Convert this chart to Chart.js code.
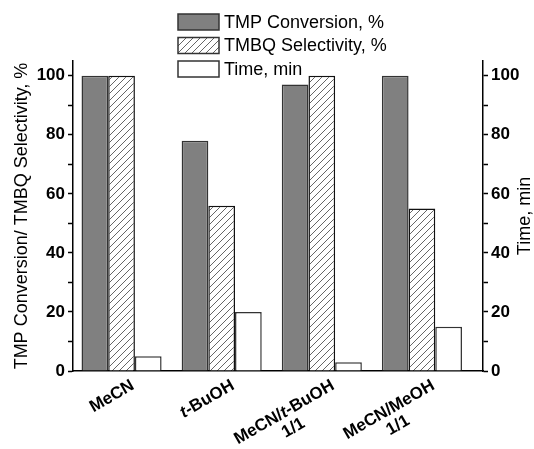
<!DOCTYPE html>
<html>
<head>
<meta charset="utf-8">
<script src="https://cdn.jsdelivr.net/npm/chart.js@4.4.1/dist/chart.umd.min.js"></script>
<style>
  body { margin: 0; background: #fff; }
</style>
</head>
<body>
<canvas id="myChart" width="534" height="449"></canvas>
<script>
const categories = [['MeCN'], ['t-BuOH'], ['MeCN/t-BuOH', '1/1'], ['MeCN/MeOH', '1/1']];
const conversion = [100, 78, 97, 100];
const selectivity = [100, 56, 100, 55];
const timeMin = [5, 20, 3, 15];
const yTickValues = [0, 10, 20, 30, 40, 50, 60, 70, 80, 90, 100];
const yLabelValues = [0, 20, 40, 60, 80, 100];
const seriesNames = ['TMP Conversion, %', 'TMBQ Selectivity, %', 'Time, min'];

const FONT = '"Liberation Sans", Arial, sans-serif';

// diagonal hatch for the selectivity bars
function makeHatch() {
  const s = 7;
  const c = document.createElement('canvas');
  c.width = s;
  c.height = s;
  const g = c.getContext('2d');
  g.fillStyle = '#fff';
  g.fillRect(0, 0, s, s);
  g.strokeStyle = '#666';
  g.lineWidth = 1;
  g.beginPath();
  g.moveTo(0, s); g.lineTo(s, 0);
  g.moveTo(-1, 1); g.lineTo(1, -1);
  g.moveTo(s - 1, s + 1); g.lineTo(s + 1, s - 1);
  g.stroke();
  return g.createPattern(c, 'repeat');
}
const ctx = document.getElementById('myChart').getContext('2d');
const hatch = makeHatch();

// legend drawn in the upper middle, overlapping the plot like the original
const legendPlugin = {
  id: 'boxLegend',
  afterDraw(chart) {
    const c = chart.ctx;
    c.save();
    c.font = '18px ' + FONT;
    c.textBaseline = 'middle';
    chart.data.datasets.forEach((ds, i) => {
      const top = 14 + i * 23.5;
      c.fillStyle = ds.backgroundColor;
      c.fillRect(178, top, 41, 16);
      c.strokeStyle = '#333';
      c.lineWidth = 1.5;
      c.strokeRect(178, top, 41, 16);
      c.fillStyle = '#000';
      c.fillText(ds.label, 224, top + 9);
    });
    c.restore();
  }
};

// rotated category labels with italic "t"
const xLabelPlugin = {
  id: 'xLabels',
  afterDraw(chart) {
    const c = chart.ctx;
    const xs = chart.scales.x;
    const bold = 'bold 17px ' + FONT;
    const ital = 'italic bold 17px ' + FONT;
    function parts(line) {
      return line.split(/(t(?=-))/).map((p, k) => ({ text: p, italic: k % 2 === 1 }));
    }
    function width(line) {
      let w = 0;
      parts(line).forEach(p => {
        c.font = p.italic ? ital : bold;
        w += c.measureText(p.text).width;
      });
      return w;
    }
    categories.forEach((lines, i) => {
      const px = xs.getPixelForValue(i);
      c.save();
      c.translate(px + 7, xs.top + 6);
      c.rotate(-30 * Math.PI / 180);
      c.textBaseline = 'top';
      c.textAlign = 'left';
      c.fillStyle = '#000';
      const w0 = width(lines[0]);
      lines.forEach((line, j) => {
        const w = width(line);
        let x = j === 0 ? -w0 : -w0 / 2 - w / 2;
        parts(line).forEach(p => {
          c.font = p.italic ? ital : bold;
          c.fillText(p.text, x, j * 18);
          x += c.measureText(p.text).width;
        });
      });
      c.restore();
    });
    // right axis title, reading bottom to top
    const r = chart.scales.y1;
    c.save();
    c.font = '18px ' + FONT;
    c.fillStyle = '#000';
    c.textAlign = 'center';
    c.textBaseline = 'middle';
    c.translate(525, (r.top + r.bottom) / 2);
    c.rotate(-Math.PI / 2);
    c.fillText('Time, min', 0, 0);
    c.restore();
  }
};

function yAxis(position, width) {
  return {
    type: 'linear',
    position: position,
    min: 0,
    max: 105,
    afterBuildTicks: (s) => { s.ticks = yTickValues.map(v => ({ value: v })); },
    afterFit: (s) => { s.width = width; },
    border: { display: true, color: '#000', width: 1.5 },
    grid: { drawOnChartArea: false, drawTicks: true, tickLength: 5, tickColor: '#000', tickWidth: 1.5 },
    ticks: {
      padding: 3,
      color: '#000',
      font: { family: FONT, size: 17, weight: 'bold' },
      callback: (v) => (yLabelValues.includes(v) ? v : '')
    }
  };
}

const left = yAxis('left', 73);
left.title = {
  display: true,
  text: 'TMP Conversion/ TMBQ Selectivity, %',
  color: '#000',
  font: { family: FONT, size: 18 },
  padding: { top: 11, bottom: 0 }
};

new Chart(ctx, {
  type: 'bar',
  data: {
    labels: categories.map((c, i) => i),
    datasets: [
      {
        label: seriesNames[0],
        data: conversion,
        backgroundColor: '#808080',
        borderColor: '#333',
        borderWidth: 1.5,
        yAxisID: 'y'
      },
      {
        label: seriesNames[1],
        data: selectivity,
        backgroundColor: hatch,
        borderColor: '#111',
        borderWidth: 1.5,
        yAxisID: 'y'
      },
      {
        label: seriesNames[2],
        data: timeMin,
        backgroundColor: '#fff',
        borderColor: '#333',
        borderWidth: 1.5,
        yAxisID: 'y1'
      }
    ]
  },
  options: {
    responsive: false,
    animation: false,
    devicePixelRatio: 1,
    layout: { padding: { top: 61, left: 0, right: 0, bottom: 0 } },
    datasets: { bar: { categoryPercentage: 0.8, barPercentage: 1 } },
    plugins: {
      legend: { display: false },
      tooltip: { enabled: false }
    },
    scales: {
      x: {
        type: 'linear',
        offset: false,
        min: -0.485,
        max: 3.61,
        afterBuildTicks: (s) => { s.ticks = categories.map((c, i) => ({ value: i })); },
        afterFit: (s) => { s.height = 78; },
        border: { display: true, color: '#000', width: 1.5 },
        grid: { display: false },
        ticks: { display: false }
      },
      y: left,
      y1: yAxis('right', 51)
    }
  },
  plugins: [legendPlugin, xLabelPlugin]
});
</script>
</body>
</html>
